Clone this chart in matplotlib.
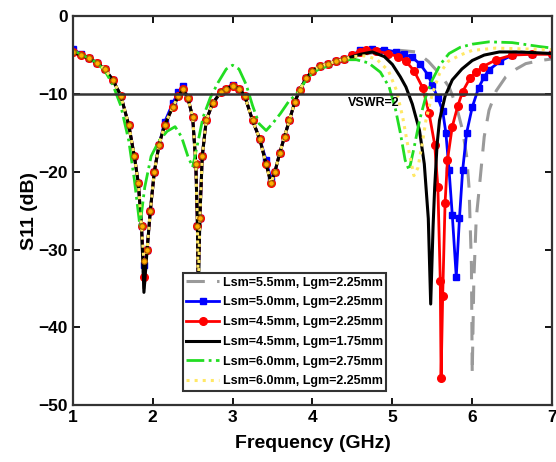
import numpy as np
import matplotlib
matplotlib.use('Agg')
import matplotlib.pyplot as plt

plt.rcParams['font.family'] = ['Liberation Sans', 'DejaVu Sans']
plt.rcParams['font.weight'] = 'bold'

# shared low band (1 - 4.5 GHz)
f_low = [1.0, 1.1, 1.2, 1.3, 1.4, 1.5, 1.6, 1.7, 1.77, 1.82, 1.86, 1.89, 1.93, 1.97,
         2.02, 2.08, 2.15, 2.25, 2.32, 2.38, 2.44, 2.5, 2.54, 2.56, 2.57, 2.59, 2.62,
         2.67, 2.75, 2.85, 2.92, 3.0, 3.08, 3.15, 3.25, 3.34, 3.42, 3.48, 3.53, 3.59,
         3.65, 3.71, 3.78, 3.84, 3.92, 4.0, 4.1, 4.2, 4.3, 4.4]
s_low = [-4.6, -5.0, -5.4, -6.0, -6.8, -8.2, -10.2, -14.0, -18.0, -21.5, -27.0, -35.5,
         -30.0, -25.0, -20.0, -16.5, -14.0, -11.7, -10.3, -9.4, -10.5, -13.0, -19.0,
         -27.0, -36.0, -26.0, -18.0, -13.4, -11.2, -9.8, -9.3, -9.0, -9.3, -10.2, -13.4,
         -15.8, -19.0, -21.5, -20.0, -17.6, -15.5, -13.4, -11.0, -9.5, -8.0, -7.0, -6.4,
         -6.1, -5.8, -5.5]
s_low_red = [-4.6, -5.0, -5.4, -6.0, -6.8, -8.2, -10.2, -14.0, -18.0, -21.5, -27.0, -33.5,
             -30.0, -25.0, -20.0, -16.5, -14.0, -11.7, -10.3, -9.4, -10.5, -13.0, -19.0,
             -27.0, -34.0, -26.0, -18.0, -13.4, -11.2, -9.8, -9.3, -9.0, -9.3, -10.2, -13.4,
             -15.8, -19.0, -21.5, -20.0, -17.6, -15.5, -13.4, -11.0, -9.5, -8.0, -7.0, -6.4,
             -6.1, -5.8, -5.5]
s_low_blue = [-4.2, -4.9, -5.4, -6.0, -6.8, -8.2, -10.2, -14.0, -18.0, -21.5, -27.0, -32.0,
              -30.0, -25.0, -20.0, -16.5, -13.6, -11.2, -9.8, -9.0, -10.5, -13.0, -19.0,
              -27.0, -34.0, -26.0, -18.0, -13.4, -11.2, -9.8, -9.3, -8.8, -9.3, -10.2, -13.4,
              -15.8, -18.5, -21.0, -20.0, -17.6, -15.5, -13.4, -11.0, -9.5, -8.0, -7.0, -6.4,
              -6.1, -5.8, -5.5]
s_low_yel = [-4.6, -5.0, -5.4, -6.0, -6.8, -8.2, -10.2, -14.0, -18.0, -21.5, -27.0, -31.5,
             -30.0, -25.0, -20.0, -16.5, -14.0, -11.7, -10.3, -9.4, -10.5, -13.0, -19.0,
             -27.0, -36.0, -26.0, -18.0, -13.4, -11.2, -9.8, -9.3, -9.0, -9.3, -10.2, -13.4,
             -15.8, -19.0, -21.5, -20.0, -17.6, -15.5, -13.4, -11.0, -9.5, -8.0, -7.0, -6.4,
             -6.1, -5.8, -5.5]

# high band of each case
f_black = [4.5, 4.6, 4.75, 4.9, 5.0, 5.1, 5.17, 5.25, 5.34, 5.4, 5.45, 5.48, 5.51, 5.53,
           5.56, 5.59, 5.66, 5.75, 5.87, 6.0, 6.15, 6.34, 6.6, 7.0]
s_black = [-5.2, -4.9, -4.6, -5.2, -6.2, -7.8, -9.1, -11.3, -14.7, -19.0, -26.0, -37.0,
           -27.0, -22.0, -16.5, -13.4, -10.3, -8.2, -6.8, -5.7, -5.0, -4.6, -4.6, -4.8]

f_red = [4.5, 4.6, 4.67, 4.8, 4.95, 5.07, 5.17, 5.27, 5.38, 5.46, 5.53, 5.57, 5.6, 5.61,
         5.63, 5.66, 5.69, 5.75, 5.82, 5.88, 5.97, 6.05, 6.13, 6.3, 6.5, 6.75, 7.0]
s_red = [-5.0, -4.6, -4.4, -4.5, -4.8, -5.2, -5.8, -7.0, -9.2, -12.5, -16.5, -22.0, -34.0,
         -46.5, -36.0, -24.0, -18.5, -14.2, -11.5, -9.7, -8.0, -7.2, -6.5, -5.6, -5.0, -4.9,
         -4.9]

f_blue = [4.5, 4.6, 4.75, 4.9, 5.05, 5.15, 5.25, 5.35, 5.45, 5.5, 5.57, 5.63, 5.67, 5.71,
          5.75, 5.8, 5.84, 5.88, 5.93, 6.0, 6.08, 6.15, 6.21, 6.35, 6.5, 6.75, 7.0]
s_blue = [-5.0, -4.4, -4.2, -4.3, -4.6, -4.9, -5.3, -6.2, -7.6, -8.9, -10.5, -12.2, -15.0,
          -19.8, -25.5, -33.5, -26.0, -19.8, -15.0, -11.7, -9.2, -7.8, -6.9, -5.8, -5.0,
          -4.8, -4.8]

f_grey = [4.5, 4.7, 4.9, 5.1, 5.3, 5.45, 5.6, 5.71, 5.8, 5.88, 5.93, 5.96, 5.99, 6.0, 6.02,
          6.05, 6.09, 6.15, 6.21, 6.3, 6.42, 6.55, 6.67, 6.85, 7.0]
s_grey = [-5.2, -4.8, -4.5, -4.4, -4.6, -5.8, -7.5, -9.1, -11.5, -14.7, -18.0, -22.0, -32.0,
          -46.0, -34.0, -26.0, -21.9, -15.5, -12.1, -9.6, -7.8, -6.8, -6.1, -5.7, -5.5]

f_yel = [4.5, 4.65, 4.8, 4.95, 5.05, 5.13, 5.2, 5.27, 5.32, 5.38, 5.42, 5.5, 5.59, 5.7,
         5.85, 6.0, 6.3, 6.6, 7.0]
s_yel = [-5.2, -5.1, -5.5, -7.0, -9.5, -13.0, -17.0, -20.5, -19.5, -16.0, -13.4, -10.0,
         -7.4, -5.8, -5.0, -4.4, -4.1, -4.2, -4.3]

# green case differs over the whole band
f_green = [1.0, 1.1, 1.2, 1.3, 1.4, 1.5, 1.6, 1.7, 1.77, 1.84, 1.9, 1.98, 2.08, 2.18, 2.28,
           2.36, 2.44, 2.5, 2.56, 2.63, 2.72, 2.82, 2.92, 3.0, 3.08, 3.17, 3.25, 3.33, 3.42,
           3.5, 3.6, 3.7, 3.8, 3.9, 4.0, 4.1, 4.2, 4.3, 4.4, 4.55, 4.7, 4.85, 4.96, 5.04,
           5.1, 5.16, 5.21, 5.27, 5.34, 5.42, 5.5, 5.6, 5.71, 5.85, 6.0, 6.21, 6.5, 6.84, 7.0]
s_green = [-4.4, -4.9, -5.4, -6.0, -7.0, -8.8, -11.5, -16.0, -21.0, -27.0, -22.0, -18.0,
           -16.0, -14.8, -14.2, -15.5, -18.0, -19.4, -16.5, -13.0, -10.5, -8.5, -6.8, -6.3,
           -6.8, -8.8, -11.5, -13.8, -14.7, -13.8, -12.5, -11.0, -10.0, -8.5, -7.3, -6.7,
           -6.4, -6.0, -5.6, -5.6, -6.0, -7.2, -9.1, -12.0, -15.0, -18.5, -19.8, -17.0,
           -13.4, -10.3, -8.2, -6.2, -4.8, -4.0, -3.6, -3.3, -3.4, -3.9, -4.1]

labels = ['Lsm=5.5mm, Lgm=2.25mm', 'Lsm=5.0mm, Lgm=2.25mm', 'Lsm=4.5mm, Lgm=2.25mm',
          'Lsm=4.5mm, Lgm=1.75mm', 'Lsm=6.0mm, Lgm=2.75mm', 'Lsm=6.0mm, Lgm=2.25mm']

fig = plt.figure(figsize=(5.56, 4.62), dpi=100)
ax = fig.add_axes([0.131, 0.123, 0.862, 0.842])

ax.plot(f_low + f_grey, s_low + s_grey, '--', color='#9a9a9a', lw=2.2, dashes=(6, 4),
        label=labels[0])
ax.plot(f_low + f_blue, s_low_blue + s_blue, '-s', color='#0000ff', lw=2, ms=5,
        label=labels[1])
ax.plot(f_low + f_red, s_low_red + s_red, '-o', color='#ff0000', lw=2, ms=5.5,
        label=labels[2])
ax.plot(f_low + f_black, s_low + s_black, '-', color='black', lw=2.2, label=labels[3])
ax.plot(f_green, s_green, '-.', color='#22dd22', lw=2, label=labels[4])
ax.plot(f_low + f_yel, s_low_yel + s_yel, ':', color='#ffe866', lw=2.2, label=labels[5])
ax.plot(f_low, s_low_yel, 'o', ms=4, mfc='#ffb000', mec='#a85800', mew=0.8)

ax.axhline(-10, color='#333333', lw=1.8)
ax.text(4.44, -11.1, 'VSWR=2', fontsize=9, fontweight='bold', va='center')

ax.set_xlim(1, 7)
ax.set_ylim(-50, 0)
ax.set_xticks(np.arange(1, 8))
ax.set_yticks(np.arange(-50, 1, 10))
ax.tick_params(direction='in', top=True, right=True, length=5, width=1.3, labelsize=12.5)
for sp in ax.spines.values():
    sp.set_linewidth(1.6)
    sp.set_color('#333333')

ax.set_xlabel('Frequency (GHz)', fontsize=14, fontweight='bold', labelpad=7)
ax.set_ylabel('S11 (dB)', fontsize=14, fontweight='bold', labelpad=0)

leg = ax.legend(loc='upper left', bbox_to_anchor=(0.229, 0.340), fancybox=False,
                prop={'weight': 'bold', 'size': 9}, handlelength=2.6, handletextpad=0.3,
                labelspacing=0.62, borderpad=0.3, borderaxespad=0)
leg.get_frame().set_edgecolor('#333333')
leg.get_frame().set_linewidth(1.5)
leg.get_frame().set_alpha(1)

fig.savefig('out.png', dpi=100)
